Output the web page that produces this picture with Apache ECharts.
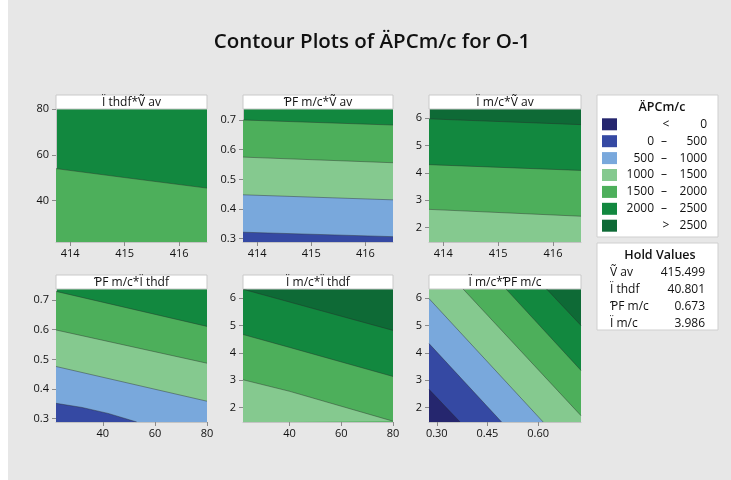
<!DOCTYPE html>
<html><head><meta charset="utf-8">
<script src="https://cdn.jsdelivr.net/npm/echarts@6/dist/echarts.min.js"></script>
<style>
html,body{margin:0;padding:0;background:#fff}
#c{width:731px;height:480px;background:linear-gradient(to right,#fff 8px,#e7e7e7 8px)}
</style>
</head><body><div id="c"></div>
<script>
// ---------- data ----------
const chartTitle = 'Contour Plots of ÄPCm/c for O-1';
const legendTitle = 'ÄPCm/c';
const levels = [0, 500, 1000, 1500, 2000, 2500];
const bandColors = ['#25266e', '#3549a3', '#79a8dc', '#85c98f', '#4daf5b', '#12883f', '#0e6a36'];
const panelTitles = ['Ï thdf*Ṽ av', 'ƤF m/c*Ṽ av', 'Ï m/c*Ṽ av', 'ƤF m/c*Ï thdf', 'Ï m/c*Ï thdf', 'Ï m/c*ƤF m/c'];

const rangeVav = [413.74, 416.51];
const rangeIthdf = [22, 80];
const rangePFx = [0.277, 0.727];
const rangePFy = [0.289, 0.737];
const rangeImc = [1.48, 6.33];

const ticksVav = [414, 415, 416];
const ticksIthdf = [40, 60, 80];
const ticksPFy = [0.3, 0.4, 0.5, 0.6, 0.7];
const ticksPFx = [0.30, 0.45, 0.60];
const ticksImc = [2, 3, 4, 5, 6];

// contour lines: [level, [[x, y], ...]]
const contIthdfVav = [
  [2000, [[413.74, 54.0], [415.0, 50.1], [416.51, 45.5]]]
];
const contPFVav = [
  [500,  [[413.74, 0.322], [416.51, 0.307]]],
  [1000, [[413.74, 0.448], [416.51, 0.431]]],
  [1500, [[413.74, 0.575], [416.51, 0.556]]],
  [2000, [[413.74, 0.700], [416.51, 0.683]]]
];
const contImcVav = [
  [1500, [[413.74, 2.67], [416.51, 2.42]]],
  [2000, [[413.74, 4.30], [416.51, 4.09]]],
  [2500, [[413.74, 5.97], [416.51, 5.76]]]
];
const contPFIthdf = [
  [500,  [[22, 0.352], [32, 0.338], [42, 0.318], [53.0, 0.289]]],
  [1000, [[22, 0.476], [80, 0.359]]],
  [1500, [[22, 0.599], [80, 0.487]]],
  [2000, [[22, 0.729], [80, 0.611]]]
];
const contImcIthdf = [
  [1500, [[22, 3.02], [40, 2.60], [80, 1.51]]],
  [2000, [[22, 4.67], [40, 4.20], [80, 3.14]]],
  [2500, [[22, 6.32], [80, 4.82]]]
];
const contImcPF = [
  [0,    [[0.277, 2.67], [0.369, 1.48]]],
  [500,  [[0.277, 4.34], [0.492, 1.48]]],
  [1000, [[0.277, 5.98], [0.615, 1.48]]],
  [1500, [[0.378, 6.33], [0.727, 1.71]]],
  [2000, [[0.505, 6.33], [0.727, 3.36]]],
  [2500, [[0.625, 6.33], [0.727, 5.00]]]
];

const holdTitle = 'Hold Values';
const holdNames = ['Ṽ av', 'Ï thdf', 'ƤF m/c', 'Ï m/c'];
const holdValues = [415.499, 40.801, 0.673, 3.986];

// ---------- build ----------
const FONT = '"Open Sans","Noto Sans",sans-serif';
const panels = [
  {x: rangeVav,   y: rangeIthdf, xt: ticksVav,   yt: ticksIthdf, xd: 0, yd: 0, lines: contIthdfVav},
  {x: rangeVav,   y: rangePFy,   xt: ticksVav,   yt: ticksPFy,   xd: 0, yd: 1, lines: contPFVav},
  {x: rangeVav,   y: rangeImc,   xt: ticksVav,   yt: ticksImc,   xd: 0, yd: 0, lines: contImcVav},
  {x: rangeIthdf, y: rangePFy,   xt: ticksIthdf, yt: ticksPFy,   xd: 0, yd: 1, lines: contPFIthdf},
  {x: rangeIthdf, y: rangeImc,   xt: ticksIthdf, yt: ticksImc,   xd: 0, yd: 0, lines: contImcIthdf},
  {x: rangePFx,   y: rangeImc,   xt: ticksPFx,   yt: ticksImc,   xd: 2, yd: 0, lines: contImcPF}
];
const rects = [[56,109,151,133],[243,109,150,133],[429,109,152,133],[56,289,151,133],[243,289,150,133],[429,289,152,133]];

const grids = [], xAxes = [], yAxes = [], series = [], graphics = [];
const axLabel = (vals, d) => ({customValues: vals, formatter: v => Number(v).toFixed(d), color: '#111', fontSize: 11, fontFamily: FONT});

panels.forEach((p, i) => {
  const [l, t, w, h] = rects[i];
  const sorted = p.lines.slice().sort((a, b) => b[0] - a[0]);
  grids.push({left: l, top: t, width: w, height: h, show: true,
    backgroundColor: bandColors[levels.indexOf(sorted[0][0]) + 1], borderWidth: 0});
  xAxes.push({type: 'value', gridIndex: i, min: p.x[0], max: p.x[1],
    axisLine: {show: true, lineStyle: {color: '#c4c4c4'}},
    axisTick: {show: true, length: 4, customValues: p.xt, lineStyle: {color: '#8a8a8a'}},
    axisLabel: Object.assign(axLabel(p.xt, p.xd), {margin: 6}),
    splitLine: {show: false}});
  yAxes.push({type: 'value', gridIndex: i, min: p.y[0], max: p.y[1],
    axisLine: {show: true, lineStyle: {color: '#c4c4c4'}},
    axisTick: {show: true, length: 4, customValues: p.yt, lineStyle: {color: '#8a8a8a'}},
    axisLabel: Object.assign(axLabel(p.yt, p.yd), {margin: 7}),
    splitLine: {show: false}});
  sorted.forEach(([lv, pts], k) => {
    const fill = pts.slice();
    const first = fill[0], last = fill[fill.length - 1];
    if (first[0] > p.x[0]) fill.unshift([p.x[0], first[1]]);
    if (last[0] < p.x[1]) fill.push([p.x[1], last[1]]);
    series.push({type: 'line', xAxisIndex: i, yAxisIndex: i, data: fill, symbol: 'none', silent: true,
      lineStyle: {width: 0, opacity: 0},
      areaStyle: {color: bandColors[levels.indexOf(lv)], opacity: 1, origin: 'start'}, z: 2 + k});
    series.push({type: 'line', xAxisIndex: i, yAxisIndex: i, data: pts, symbol: 'none', silent: true,
      lineStyle: {color: 'rgba(40,40,40,0.6)', width: 0.7}, z: 20});
  });
  // panel strip
  graphics.push({type: 'rect', shape: {x: l, y: t - 14, width: w, height: 14},
    style: {fill: '#fff', stroke: '#c9c9c9', lineWidth: 1}, z: 5});
  graphics.push({type: 'text', x: l + w / 2, y: t - 6.5, z: 6,
    style: {text: panelTitles[i], font: '12px ' + FONT, fill: '#111', align: 'center', verticalAlign: 'middle', textAlign: 'center', textVerticalAlign: 'middle'}});
});

// title
graphics.push({type: 'text', x: 372, y: 42, z: 6,
  style: {text: chartTitle, font: '600 20.5px ' + FONT, fill: '#111', align: 'center', verticalAlign: 'middle', textAlign: 'center', textVerticalAlign: 'middle'}});

// legend box
graphics.push({type: 'rect', shape: {x: 597, y: 95, width: 121, height: 142}, style: {fill: '#fff', stroke: '#cfcfcf', lineWidth: 1}, z: 5});
graphics.push({type: 'text', x: 662, y: 107, z: 6,
  style: {text: legendTitle, font: '600 12.5px ' + FONT, fill: '#111', align: 'center', verticalAlign: 'middle', textAlign: 'center', textVerticalAlign: 'middle'}});
const txt = (s, x, y, al, f) => ({type: 'text', x: x, y: y, z: 6,
  style: {text: s, font: f || ('12px ' + FONT), fill: '#111', align: al, verticalAlign: 'middle', textAlign: al, textVerticalAlign: 'middle'}});
for (let r = 0; r <= levels.length; r++) {
  const y = 124.3 + r * 16.9;
  graphics.push({type: 'rect', shape: {x: 602, y: y - 6, width: 15, height: 12}, style: {fill: bandColors[r]}, z: 6});
  if (r === 0) {
    graphics.push(txt('<', 666, y, 'center'));
    graphics.push(txt(String(levels[0]), 707, y, 'right'));
  } else if (r === levels.length) {
    graphics.push(txt('>', 666, y, 'center'));
    graphics.push(txt(String(levels[levels.length - 1]), 707, y, 'right'));
  } else {
    graphics.push(txt(String(levels[r - 1]), 654, y, 'right'));
    graphics.push(txt('–', 664, y, 'center'));
    graphics.push(txt(String(levels[r]), 707, y, 'right'));
  }
}

// hold values box
graphics.push({type: 'rect', shape: {x: 597, y: 243, width: 121, height: 87}, style: {fill: '#fff', stroke: '#cfcfcf', lineWidth: 1}, z: 5});
graphics.push(txt(holdTitle, 660, 255, 'center', '600 12.5px ' + FONT));
holdNames.forEach((n, k) => {
  const y = 273 + k * 16.8;
  graphics.push(txt(n, 610, y, 'left'));
  graphics.push(txt(holdValues[k].toFixed(3), 705, y, 'right'));
});

const chart = echarts.init(document.getElementById('c'));
chart.setOption({
  animation: false,
  backgroundColor: 'transparent',
  grid: grids, xAxis: xAxes, yAxis: yAxes, series: series, graphic: graphics
});
</script></body></html>
